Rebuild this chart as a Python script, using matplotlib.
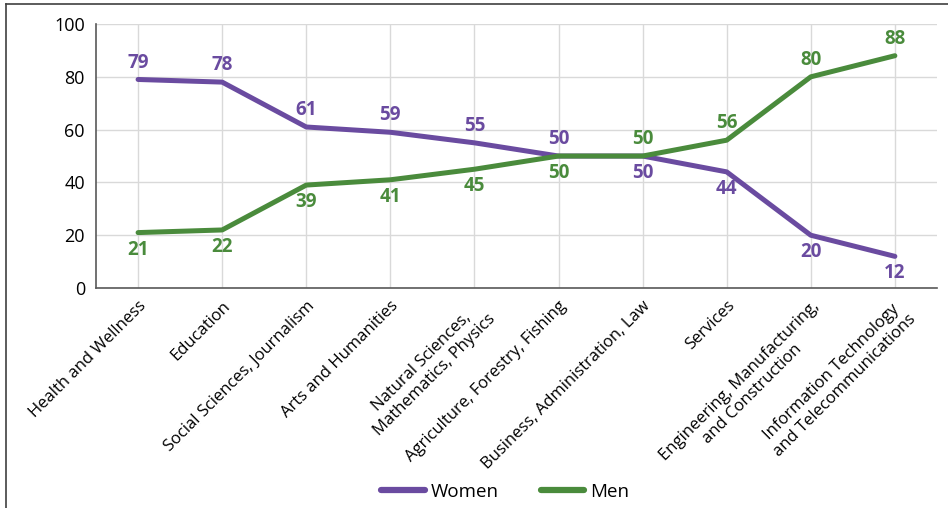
import matplotlib.pyplot as plt
import numpy as np
from matplotlib.lines import Line2D

plt.rcParams['font.family'] = ['Open Sans', 'DejaVu Sans']

# Fields of study and share of graduates (%)
fields = [
    "Health and Wellness",
    "Education",
    "Social Sciences, Journalism",
    "Arts and Humanities",
    "Natural Sciences,\nMathematics, Physics",
    "Agriculture, Forestry, Fishing",
    "Business, Administration, Law",
    "Services",
    "Engineering, Manufacturing,\nand Construction",
    "Information Technology\nand Telecommunications",
]
women = [79, 78, 61, 59, 55, 50, 50, 44, 20, 12]
men = [21, 22, 39, 41, 45, 50, 50, 56, 80, 88]

purple = "#6a4ba0"
green = "#4a8b3c"

fig = plt.figure(figsize=(9.48, 5.08), dpi=100)
ax = fig.add_axes([0.1013, 0.433, 0.887, 0.5197])

x = np.arange(len(fields))
ax.plot(x, women, color=purple, lw=3.6, label="Women", solid_capstyle="round", zorder=3)
ax.plot(x, men, color=green, lw=3.6, label="Men", solid_capstyle="round", zorder=3)

# value labels: the leading series sits above, the other below
for i in x:
    w_up = women[i] >= men[i] and i <= 5
    ax.annotate(str(women[i]), (i, women[i]), xytext=(0, 5 if w_up else -5),
                textcoords="offset points", ha="center",
                va="bottom" if w_up else "top",
                color=purple, fontsize=13.5, fontweight="bold")
    ax.annotate(str(men[i]), (i, men[i]), xytext=(0, -5 if w_up else 5),
                textcoords="offset points", ha="center",
                va="top" if w_up else "bottom",
                color=green, fontsize=13.5, fontweight="bold")

ax.set_xlim(-0.5, len(fields) - 0.5)
ax.set_ylim(0, 100)
ax.set_yticks(range(0, 101, 20))
ax.set_xticks(x)
ax.set_xticklabels(fields, rotation=45, ha="right", rotation_mode="anchor",
                   multialignment="center")
ax.tick_params(axis="both", length=0)
ax.tick_params(axis="x", pad=7, labelsize=12)
ax.tick_params(axis="y", pad=8, labelsize=13)

ax.grid(True, color="#d9d9d9", lw=1)
ax.set_axisbelow(True)
for side in ["top", "right"]:
    ax.spines[side].set_visible(False)
for side in ["left", "bottom"]:
    ax.spines[side].set_color("#595959")
    ax.spines[side].set_linewidth(1.2)

leg = fig.legend(loc="center", bbox_to_anchor=(0.533, 0.032), ncol=2, frameon=False,
                 fontsize=13.5, handlelength=2.3, handletextpad=0.3, columnspacing=2.3)
for h in leg.get_lines():
    h.set_linewidth(4.5)

# outer frame (left and top edges)
fig.add_artist(Line2D([6 / 948, 6 / 948], [0, 1 - 4 / 508], transform=fig.transFigure,
                      color="#404040", lw=1.2))
fig.add_artist(Line2D([6 / 948, 1], [1 - 4 / 508, 1 - 4 / 508], transform=fig.transFigure,
                      color="#404040", lw=1.2))

fig.savefig("out.png", dpi=100)
